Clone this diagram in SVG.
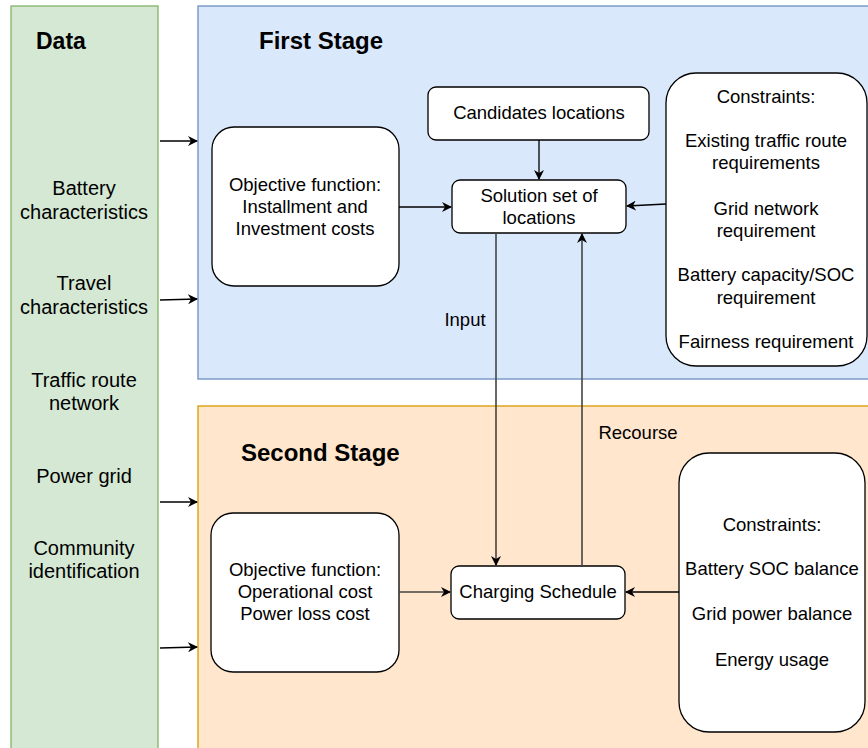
<svg xmlns="http://www.w3.org/2000/svg" width="868" height="748" viewBox="0 0 868 748">
<style>
text{font-family:"Liberation Sans",Arial,sans-serif;fill:#000;text-anchor:middle}
.t{font-size:18.5px}
.d{font-size:20px}
.h{font-size:24px;font-weight:bold;text-anchor:start}
.box{fill:#fff;stroke:#000;stroke-width:1.3}
.e{fill:none;stroke:#000;stroke-width:1.3}
.g{fill:none;stroke:#444;stroke-width:1.6}
</style>
<defs>
<marker id="a" viewBox="0 0 10 10" refX="9" refY="5" markerWidth="10" markerHeight="10" markerUnits="userSpaceOnUse" orient="auto">
<path d="M0,0 L10,5 L0,10 L3,5 Z" fill="#000"/>
</marker>
</defs>
<g id="data">
<rect x="11" y="6" width="147" height="760" fill="#d5e8d4" stroke="#82b366" stroke-width="1.3"/>
<text class="h" x="36" y="49" style="font-size:23px">Data</text>
<text class="d" x="84" y="195">Battery</text>
<text class="d" x="84" y="219">characteristics</text>
<text class="d" x="84" y="290">Travel</text>
<text class="d" x="84" y="314">characteristics</text>
<text class="d" x="84" y="387">Traffic route</text>
<text class="d" x="84" y="410">network</text>
<text class="d" x="84" y="483">Power grid</text>
<text class="d" x="84" y="555">Community</text>
<text class="d" x="84" y="578">identification</text>
</g>
<g id="first-stage">
<rect x="198" y="6" width="680" height="373" fill="#dae8fc" stroke="#6c8ebf" stroke-width="1.3"/>
<text class="h" x="259" y="49">First Stage</text>
</g>
<g id="second-stage">
<rect x="198" y="406" width="680" height="360" fill="#ffe6cc" stroke="#d79b00" stroke-width="1.3"/>
<text class="h" x="241" y="461">Second Stage</text>
</g>
<g id="objective1">
<rect class="box" x="212" y="127" width="187" height="159" rx="22"/>
<text class="t" x="305" y="191">Objective function:</text>
<text class="t" x="305" y="213">Installment and</text>
<text class="t" x="305" y="235">Investment costs</text>
</g>
<g id="candidates">
<rect class="box" x="428" y="87" width="221" height="53" rx="8"/>
<text class="t" x="539" y="119">Candidates locations</text>
</g>
<g id="solution">
<rect class="box" x="452" y="180" width="174" height="53" rx="8"/>
<text class="t" x="539" y="202">Solution set of</text>
<text class="t" x="539" y="224">locations</text>
</g>
<g id="constraints1">
<rect class="box" x="666" y="73" width="201" height="293" rx="30"/>
<text class="t" x="766" y="103">Constraints:</text>
<text class="t" x="766" y="147">Existing traffic route</text>
<text class="t" x="766" y="169">requirements</text>
<text class="t" x="766" y="215">Grid network</text>
<text class="t" x="766" y="237">requirement</text>
<text class="t" x="766" y="281">Battery capacity/SOC</text>
<text class="t" x="766" y="304">requirement</text>
<text class="t" x="766" y="348">Fairness requirement</text>
</g>
<g id="objective2">
<rect class="box" x="211" y="513" width="188" height="159" rx="22"/>
<text class="t" x="305" y="576">Objective function:</text>
<text class="t" x="305" y="598">Operational cost</text>
<text class="t" x="305" y="620">Power loss cost</text>
</g>
<g id="charging">
<rect class="box" x="451" y="566" width="174" height="53" rx="8"/>
<text class="t" x="538" y="598">Charging Schedule</text>
</g>
<g id="constraints2">
<rect class="box" x="679" y="453" width="186" height="279" rx="30"/>
<text class="t" x="772" y="531">Constraints:</text>
<text class="t" x="772" y="575">Battery SOC balance</text>
<text class="t" x="772" y="620">Grid power balance</text>
<text class="t" x="772" y="666">Energy usage</text>
</g>
<g id="connectors">
<line class="e" x1="160" y1="141" x2="197" y2="141" marker-end="url(#a)"/>
<line class="e" x1="160" y1="300" x2="197" y2="299" marker-end="url(#a)"/>
<line class="e" x1="160" y1="502" x2="197" y2="502" marker-end="url(#a)"/>
<line class="e" x1="160" y1="648" x2="197" y2="647" marker-end="url(#a)"/>
<line class="e" x1="399" y1="207" x2="451" y2="207" marker-end="url(#a)"/>
<line class="e" x1="539" y1="140" x2="539" y2="179" marker-end="url(#a)"/>
<line class="e" x1="666" y1="204" x2="627" y2="206" marker-end="url(#a)"/>
<line class="g" x1="496" y1="233" x2="496" y2="565" marker-end="url(#a)"/>
<line class="g" x1="582" y1="566" x2="582" y2="234" marker-end="url(#a)"/>
<line class="g" x1="399" y1="592" x2="450" y2="592" marker-end="url(#a)"/>
<line class="e" x1="679" y1="592" x2="626" y2="592" marker-end="url(#a)"/>
<text class="t" x="465" y="326">Input</text>
<text class="t" x="638" y="439">Recourse</text>
</g>
</svg>
